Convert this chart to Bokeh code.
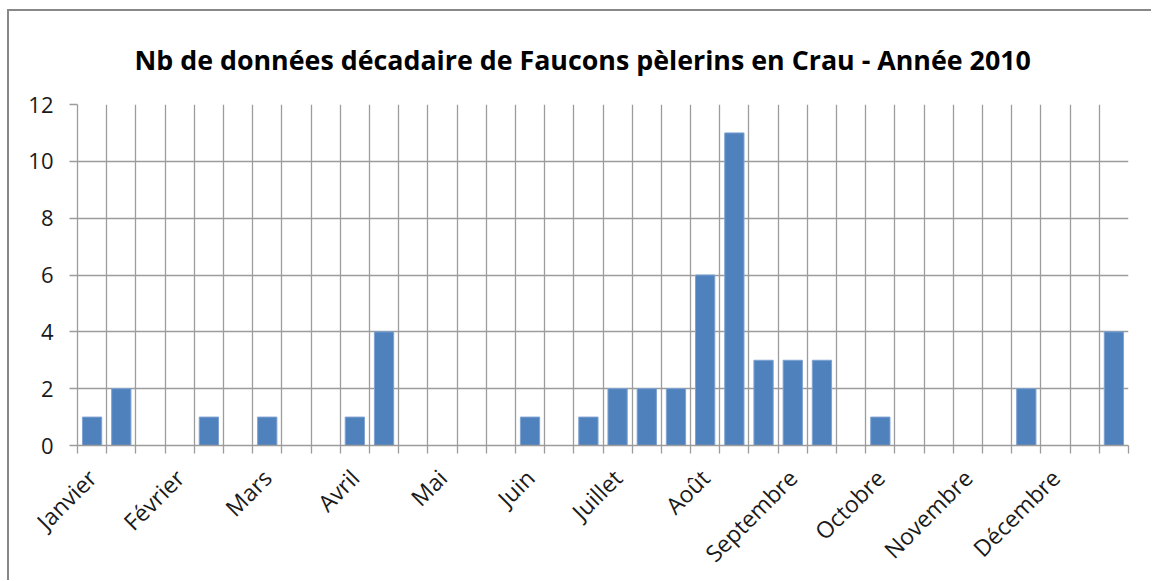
import math
from bokeh.plotting import figure
from bokeh.models import Range1d, FixedTicker, ColumnDataSource
from bokeh.embed import file_html
from bokeh.resources import INLINE

# ---- data ----
months = ["Janvier", "Février", "Mars", "Avril", "Mai", "Juin", "Juillet",
          "Août", "Septembre", "Octobre", "Novembre", "Décembre"]
decades_per_month = 3
counts = [1, 2, 0,   0, 1, 0,   1, 0, 0,   1, 4, 0,
          0, 0, 0,   1, 0, 1,   2, 2, 2,   6, 11, 3,
          3, 3, 0,   1, 0, 0,   0, 0, 2,   0, 0, 4]
y_ticks = [0, 2, 4, 6, 8, 10, 12]
title = "Nb de données décadaire de Faucons pèlerins en Crau - Année 2010"

n = len(counts)
xs = [i + 0.5 for i in range(n)]
src = ColumnDataSource(dict(x=xs, top=counts))

GRID = "#9c9c9c"
FONT = "Open Sans"

p = figure(width=1144, height=571, output_backend="svg", toolbar_location=None,
           x_range=Range1d(0, n), y_range=Range1d(0, max(y_ticks)),
           min_border_left=68, min_border_right=25, min_border_top=92,
           min_border_bottom=134)
p.styles = {"margin-left": "7px", "margin-top": "9px",
            "border-left": "2px solid #888888", "border-top": "2px solid #888888"}

p.vbar(x="x", top="top", width=0.66, bottom=0, source=src,
       fill_color="#4F81BD", line_color="#7EA3D2", line_width=1)

p.title.text = title
p.title.align = "left"
p.title.text_font = FONT
p.title.text_font_size = "26.8px"
p.title.text_font_style = "bold"
p.title.text_color = "#000000"
p.title.offset = 57
p.title.standoff = 54

p.outline_line_color = None
p.background_fill_color = "white"
p.border_fill_color = "white"

# grids
p.xgrid.ticker = FixedTicker(ticks=list(range(n + 1)))
p.ygrid.ticker = FixedTicker(ticks=y_ticks)
for g in (p.xgrid, p.ygrid):
    g.grid_line_color = GRID
    g.grid_line_width = 1.3

# x axis
label_pos = [m * decades_per_month + 0.5 for m in range(len(months))]
p.xaxis.ticker = FixedTicker(ticks=label_pos, minor_ticks=list(range(n + 1)))
p.xaxis.major_label_overrides = {lp: m for lp, m in zip(label_pos, months)}
p.xaxis.major_label_orientation = math.pi / 4
p.xaxis.major_tick_line_color = None
p.xaxis.minor_tick_line_color = GRID
p.xaxis.minor_tick_line_width = 1.3
p.xaxis.minor_tick_out = 8
p.xaxis.minor_tick_in = 0
p.xaxis.axis_line_color = GRID
p.xaxis.axis_line_width = 1.3
p.xaxis.major_label_text_font = FONT
p.xaxis.major_label_text_font_size = "23px"
p.xaxis.major_label_text_color = "#1a1a1a"
p.xaxis.major_label_standoff = 20

# y axis
p.yaxis.ticker = FixedTicker(ticks=y_ticks)
p.yaxis.minor_tick_line_color = None
p.yaxis.major_tick_line_color = GRID
p.yaxis.major_tick_line_width = 1.3
p.yaxis.major_tick_out = 8
p.yaxis.major_tick_in = 0
p.yaxis.axis_line_color = GRID
p.yaxis.axis_line_width = 1.3
p.yaxis.major_label_text_font = FONT
p.yaxis.major_label_text_font_size = "22px"
p.yaxis.major_label_text_color = "#1a1a1a"
p.yaxis.major_label_standoff = 16

open("out.html", "w").write(file_html(p, INLINE))
